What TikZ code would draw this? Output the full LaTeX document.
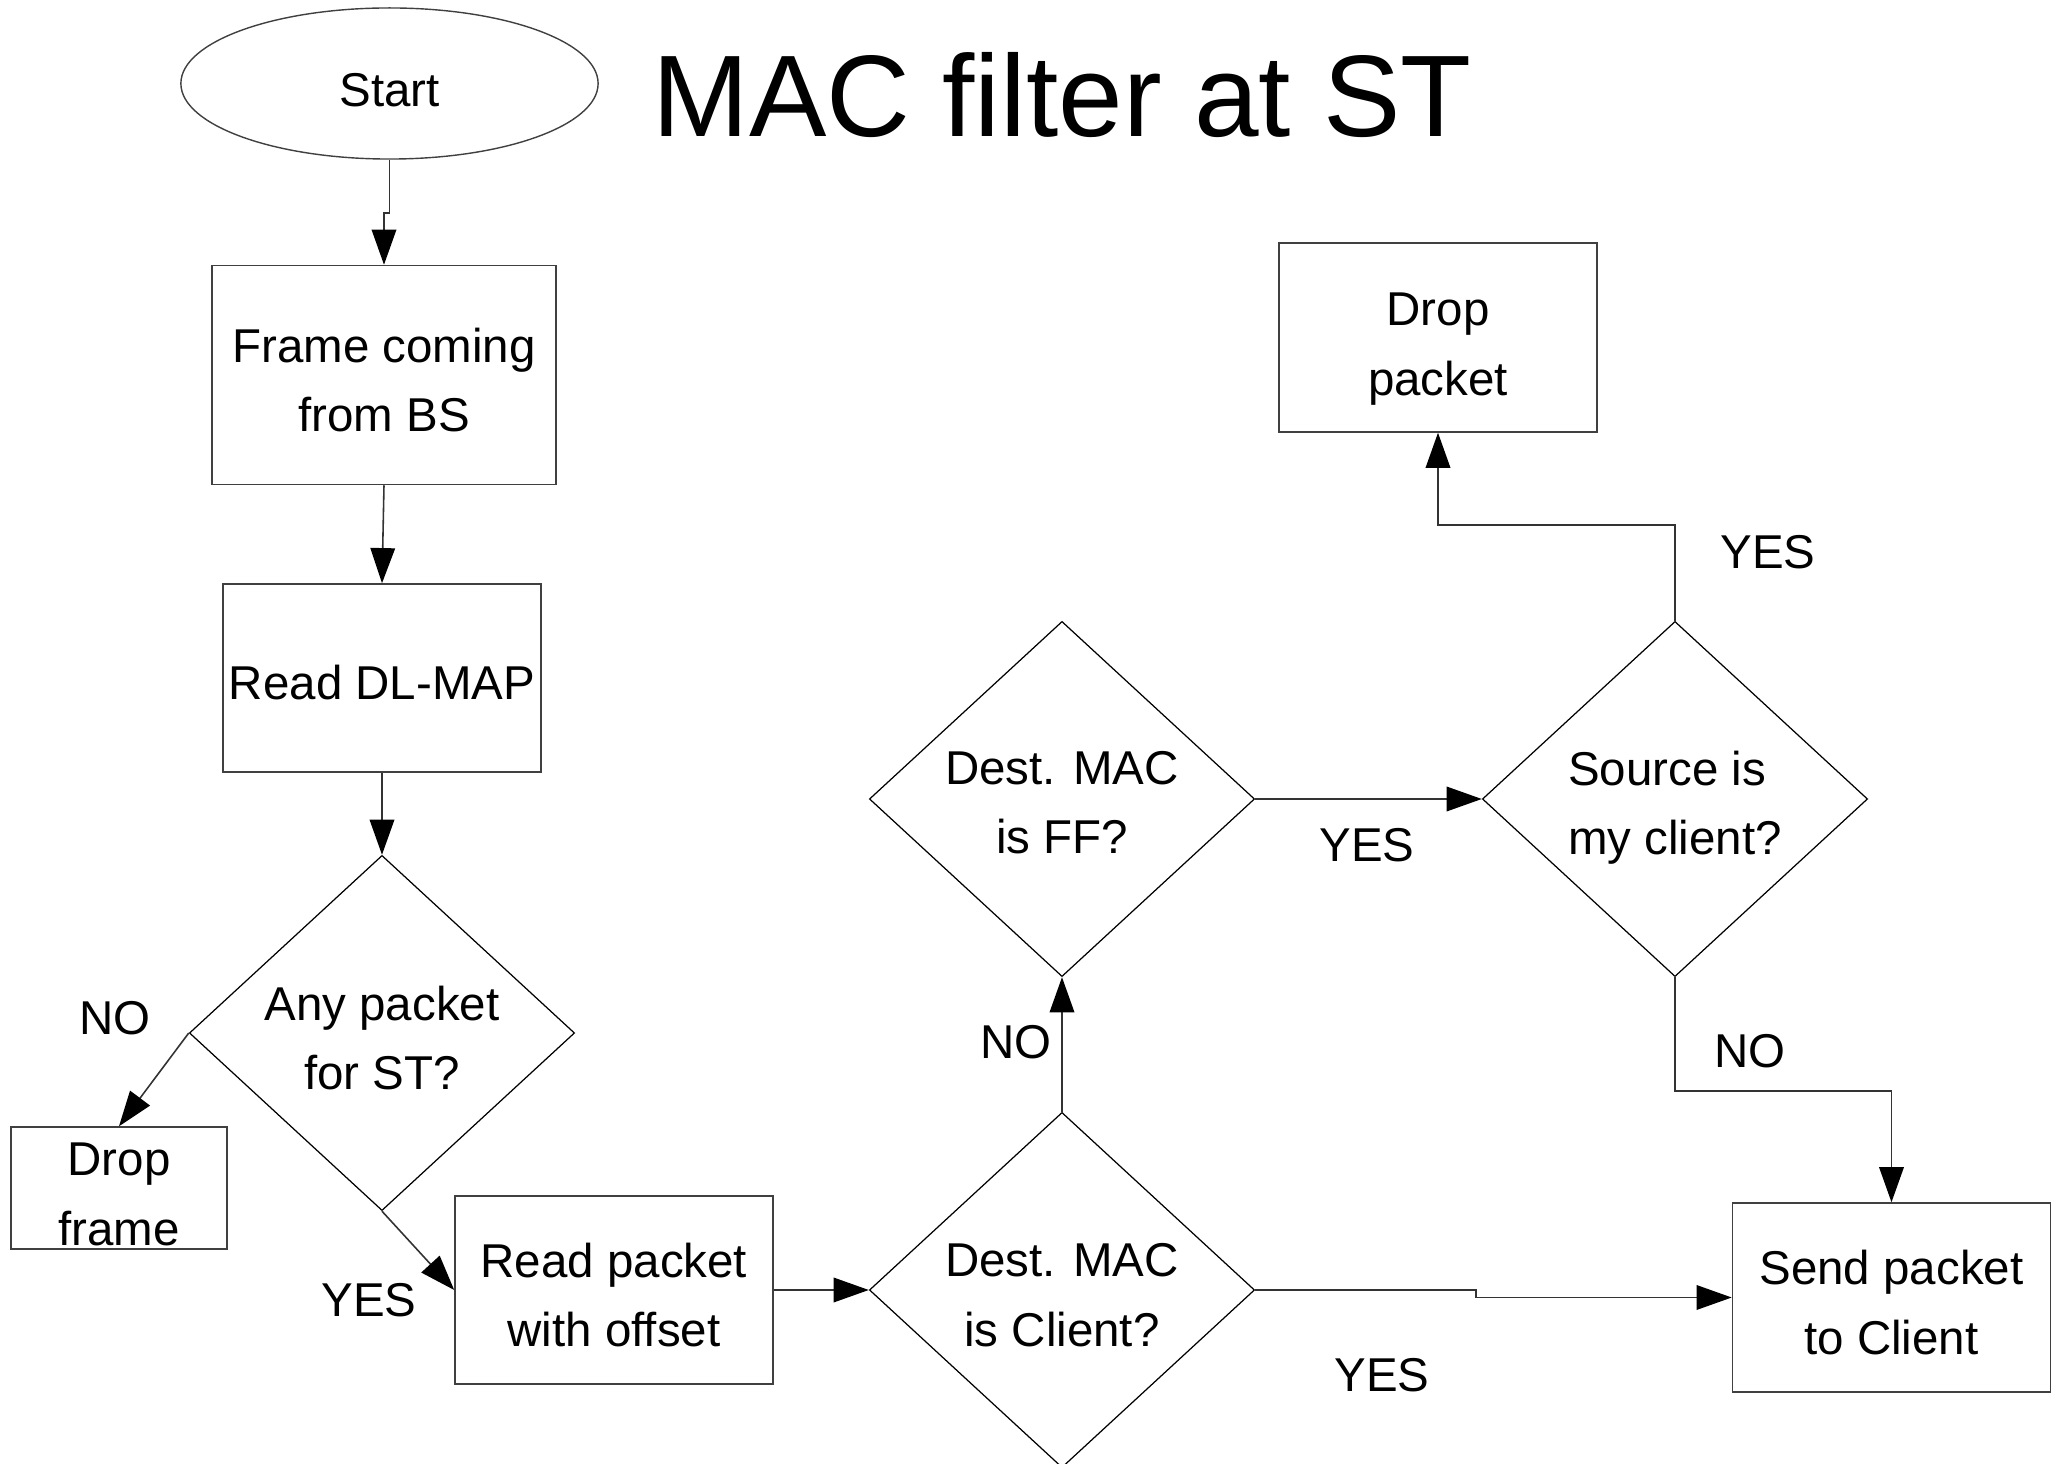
\documentclass[tikz,border=0pt]{standalone}
\usepackage{fontspec}
\setmainfont{Liberation Sans}
\usetikzlibrary{shapes.geometric,arrows.meta}
\newcommand\txc[2][0.08cm]{\raisebox{-#1}[\dimexpr\height-0.3cm\relax][\dimexpr\depth-0.3cm\relax]{\begin{tabular}{@{}c@{}}#2\end{tabular}}}
\newcommand\txl[2][0.08cm]{\raisebox{-#1}[\dimexpr\height-0.3cm\relax][\dimexpr\depth-0.3cm\relax]{\begin{tabular}{@{}l@{}}#2\end{tabular}}}
\begin{document}
\begin{tikzpicture}[x=0.01cm,y=-0.01cm,
  every node/.style={font=\fontsize{13.5}{19.9}\selectfont, inner sep=0pt},
  proc/.style={draw=black!75, line width=0.4pt, rectangle},
  decide/.style={draw=black, line width=0.35pt, diamond, minimum width=3.85cm, minimum height=3.55cm},
  conn/.style={draw=black!80, line width=0.45pt, -{Triangle[length=10pt,width=7pt,color=black]}},
  lbl/.style={font=\fontsize{13.5}{19.9}\selectfont}]
\useasboundingbox (0,0) rectangle (2059,1464);

% title
\node[anchor=base, font=\fontsize{33}{40}\selectfont] (title) at (1062,137) {MAC filter at ST};

% nodes
\node[draw=black!75, line width=0.4pt, ellipse, minimum width=4.17cm, minimum height=1.51cm] (start) at (389.5,83.5) {\txc[0.13cm]{Start}};
\node[proc, minimum width=3.44cm, minimum height=2.19cm] (frame) at (384,375) {\txc{Frame coming\ \\ from BS}};
\node[proc, minimum width=3.18cm, minimum height=1.88cm] (dlmap) at (382,678) {\txc[0.11cm]{Read DL-MAP}};
\node[decide] (anyp) at (382,1033) {\txc{Any packet\ \\ for ST?}};
\node[proc, minimum width=2.16cm, minimum height=1.22cm] (dropf) at (119,1188) {\txc[0.085cm]{Drop\ \\ frame}};
\node[proc, minimum width=3.18cm, minimum height=1.88cm] (readp) at (614,1290) {\txc{Read packet\ \\ with offset}};
\node[decide] (client) at (1062,1290) {\txc[0.075cm]{Dest. MAC\\ is Client?}};
\node[decide] (ff) at (1062,799) {\txc[0.06cm]{Dest. MAC\\ is FF?}};
\node[decide] (src) at (1675,799) {\txl[0.07cm]{Source is\\my client?}};
\node[proc, minimum width=3.18cm, minimum height=1.89cm] (dropp) at (1438,337.5) {\txc[0.09cm]{Drop\ \\ packet}};
\node[proc, minimum width=3.18cm, minimum height=1.89cm] (send) at (1891.5,1297.5) {\txc{Send packet\ \\ to Client}};

% labels
\node[lbl] (l1) at (115,1018) {NO};
\node[lbl] (l2) at (369,1300) {YES};
\node[lbl] (l3) at (1016,1042) {NO};
\node[lbl] (l4) at (1367,845) {YES};
\node[lbl] (l5) at (1768,552) {YES};
\node[lbl] (l6) at (1750,1051) {NO};
\node[lbl] (l7) at (1382,1375) {YES};

% connectors
\draw[conn] (start.south) -- ++(0,53) -| (frame.north);
\draw[conn] (frame.south) -- (dlmap.north);
\draw[conn] (dlmap.south) -- (anyp.north);
\draw[conn] (anyp.west) -- (dropf.north);
\draw[conn] (anyp.south) -- (readp.west);
\draw[conn] (readp.east) -- (client.west);
\draw[conn] (client.north) -- (ff.south);
\draw[conn] (ff.east) -- (src.west);
\draw[conn] (src.north) -- ++(0,-96) -| (dropp.south);
\draw[conn] (src.south) -- ++(0,114) -| (send.north);
\draw[conn] (client.east) -- ++(221,0) |- (send.west);
\end{tikzpicture}
\end{document}
